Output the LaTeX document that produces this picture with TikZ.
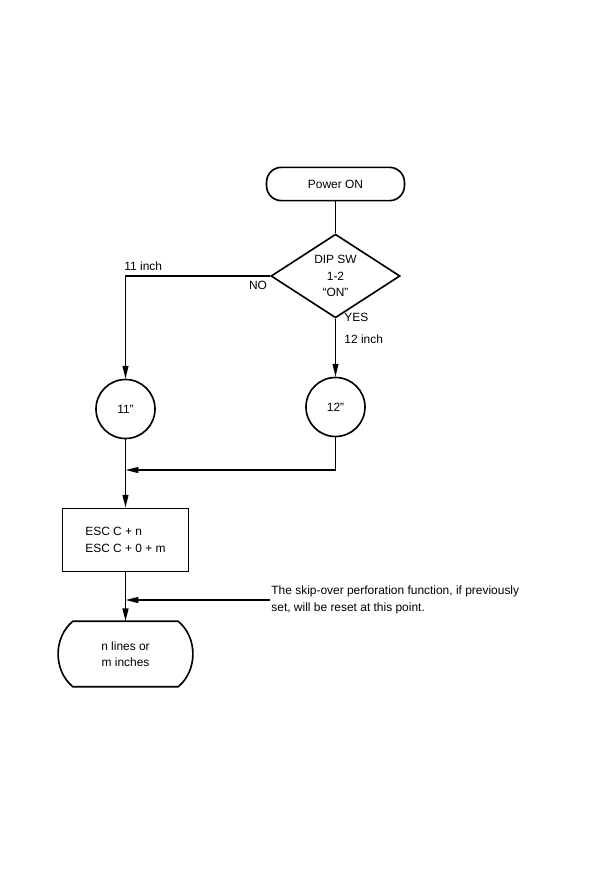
\documentclass[tikz,border=0pt]{standalone}
\usepackage{fontspec}
\setmainfont{Liberation Sans}
\usetikzlibrary{arrows.meta,positioning,calc,shapes.geometric}
\newcommand{\flowfont}{\fontsize{10.2}{14}\selectfont}

\begin{document}
\begin{tikzpicture}[
  x=0.03cm, y=-0.03cm,
  arr/.style={-{Triangle[length=11pt,width=5pt]}, line width=1.3pt},
  line/.style={line width=1.3pt},
  termbox/.style={draw, line width=1.4pt, rounded corners=0.45cm,
    minimum width=4.14cm, minimum height=1.0cm, font=\flowfont},
  decbox/.style={draw, diamond, line width=1.4pt, minimum width=3.87cm,
    minimum height=1.98cm, inner sep=0pt, align=center, font=\flowfont},
  sizecirc/.style={draw, circle, line width=1.4pt, minimum size=1.77cm,
    inner sep=0pt, font=\flowfont},
  cmdbox/.style={draw, line width=1.4pt, minimum width=3.78cm,
    minimum height=1.89cm, align=left, font=\flowfont},
  endbox/.style={minimum width=3.15cm, minimum height=1.95cm,
    align=center, font=\flowfont},
  lbl/.style={font=\flowfont, inner sep=1pt},
]
\useasboundingbox (0,0) rectangle (603,882);

% ── top: power on and switch test ───────────────────────────────────────────
\node[termbox] (power) at (335.5,184) {Power ON};
\node[decbox]  (dip)   at (335.5,276) {DIP SW\\1-2\\``ON''};

% ── the two page lengths ────────────────────────────────────────────────────
\node[sizecirc] (c11) at (125.5,409) {11''};
\node[sizecirc] (c12) at (335.5,407) {12''};

% ── command and result ──────────────────────────────────────────────────────
\node[cmdbox] (esc)   at (125.5,540) {ESC C + n\\ESC C + 0 + m};
\node[endbox] (lines) at (125.5,654) {n lines or\\m inches};
\draw[line width=1.4pt] (lines.north west) -- (lines.north east)
  to[bend left=50] (lines.south east) -- (lines.south west)
  to[bend left=50] cycle;

% ── labels ──────────────────────────────────────────────────────────────────
\node[lbl, anchor=south west] (l11) at (123,272) {11 inch};
\node[lbl] (no) at (258,285) {NO};
\node[lbl, anchor=west] (yes)  at (343,317) {YES};
\node[lbl, anchor=west] (l12)  at (343,339) {12 inch};
\node[lbl, anchor=west, align=left] (note) at (270,600)
  {The skip-over perforation function, if previously\\
   set, will be reset at this point.};

\coordinate (join1) at (125.5,470);
\coordinate (join2) at (125.5,600);

% ── arrows ──────────────────────────────────────────────────────────────────
\draw[line] (power) -- (dip);
\draw[arr] (dip.west) -| (c11.north);
\draw[arr] (dip.south) -- (c12.north);
\draw[arr] (c12.south) |- (join1);
\draw[arr] (c11.south) -- (esc.north);
\draw[arr] (note.west) -- (join2);
\draw[arr] (esc.south) -- (lines.north);
\end{tikzpicture}
\end{document}
